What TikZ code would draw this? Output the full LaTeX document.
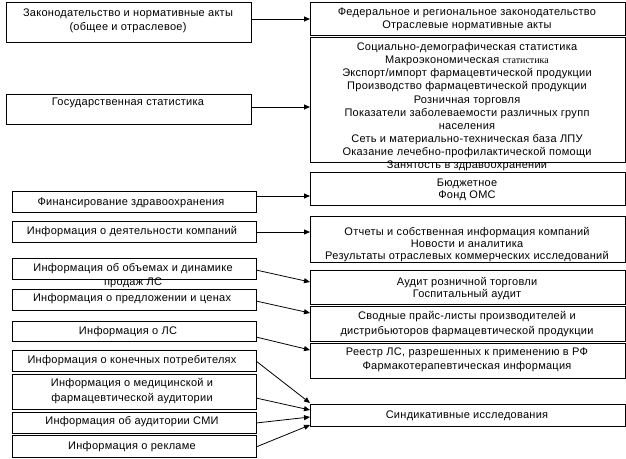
\documentclass[tikz,border=0pt]{standalone}
\usepackage{fontspec}
\setmainfont{Liberation Sans}[LetterSpace=2.5]
\newfontfamily\serifx{Liberation Serif}
\usetikzlibrary{arrows.meta}
\tikzset{
  box/.style={draw=black, line width=0.9pt, inner sep=0pt, outer sep=0pt, anchor=north west, fill=white},
  txt/.style={align=center, inner sep=0pt, anchor=north, font=\fontsize{11}{#1}\selectfont},
  txt/.default=11.7,
  arr/.style={line width=0.8pt, -{Triangle[length=6pt,width=5pt]}}
}
\begin{document}
\begin{tikzpicture}[x=1pt,y=-1pt]
\useasboundingbox (0,0) rectangle (626,458);
% left boxes
\node[box, minimum width=245pt, minimum height=40pt] (L1) at (6,2) {};
\node[box, minimum width=245pt, minimum height=30pt] (L2) at (6,94) {};
\node[box, minimum width=244pt, minimum height=21pt] (L3) at (12,191) {};
\node[box, minimum width=244pt, minimum height=21pt] (L4) at (12,221) {};
\node[box, minimum width=244pt, minimum height=21pt] (L5) at (12,258) {};
\node[box, minimum width=244pt, minimum height=21pt] (L6) at (12,289) {};
\node[box, minimum width=244pt, minimum height=20pt] (L7) at (12,321) {};
\node[box, minimum width=244pt, minimum height=21pt] (L8) at (12,350) {};
\node[box, minimum width=244pt, minimum height=35pt] (L9) at (12,374) {};
\node[box, minimum width=244pt, minimum height=21pt] (L10) at (12,412) {};
\node[box, minimum width=244pt, minimum height=22pt] (L11) at (12,435) {};
% right boxes
\node[box, minimum width=315pt, minimum height=33pt] (R1) at (310,2) {};
\node[box, minimum width=315pt, minimum height=125pt] (R2) at (310,37) {};
\node[box, minimum width=315pt, minimum height=33pt] (R3) at (310,172) {};
\node[box, minimum width=315pt, minimum height=46pt] (R4) at (310,216) {};
\node[box, minimum width=315pt, minimum height=34pt] (R5) at (310,270) {};
\node[box, minimum width=315pt, minimum height=35pt] (R6) at (310,306) {};
\node[box, minimum width=315pt, minimum height=35pt] (R7) at (310,343) {};
\node[box, minimum width=315pt, minimum height=22pt] (R8) at (310,404) {};
% left texts
\node[txt=14] (tL1) at (128,8.5) {Законодательство и нормативные акты\\(общее и отраслевое)};
\node[txt] (tL2) at (128,97.5) {Государственная статистика};
\node[txt] (tL3) at (131,197.5) {Финансирование здравоохранения};
\node[txt] (tL4) at (132,226.5) {Информация о деятельности компаний};
\node[txt=14] (tL5) at (133,263.5) {Информация об объемах и динамике\\продаж ЛС};
\node[txt] (tL6) at (132,293.5) {Информация о предложении и ценах};
\node[txt] (tL7) at (128,326.5) {Информация о ЛС};
\node[txt] (tL8) at (132,355.5) {Информация о конечных потребителях};
\node[txt=14.5] (tL9) at (132,378.5) {Информация о медицинской и\\фармацевтической аудитории};
\node[txt] (tL10) at (132,416.5) {Информация об аудитории СМИ};
\node[txt] (tL11) at (132,441.5) {Информация о рекламе};
% right texts
\node[txt=13.3] (tR1) at (467,7.5) {Федеральное и региональное законодательство\\Отраслевые нормативные акты};
\node[txt=13.1] (tR2) at (467,42.5) {Социально-демографическая статистика\\
Макроэкономическая {\serifx\fontsize{10}{13.1}\selectfont статистика}\\
Экспорт/импорт фармацевтической продукции\\
Производство фармацевтической продукции\\
Розничная торговля\\
Показатели заболеваемости различных групп\\
населения\\
Сеть и материально-техническая база ЛПУ\\
Оказание лечебно-профилактической помощи\\
Занятость в здравоохранении};
\node[txt=12] (tR3) at (467,178.5) {Бюджетное\\Фонд ОМС};
\node[txt=11.6] (tR4) at (467,227.5) {Отчеты и собственная информация компаний\\Новости и аналитика\\Результаты отраслевых коммерческих исследований};
\node[txt=11.6] (tR5) at (467,277.5) {Аудит розничной торговли\\Госпитальный аудит};
\node[txt=14.7] (tR6) at (467,311.5) {Сводные прайс-листы производителей и\\дистрибьюторов фармацевтической продукции};
\node[txt=14.3] (tR7) at (467,347.5) {Реестр ЛС, разрешенных к применению в РФ\\Фармакотерапевтическая информация};
\node[txt] (tR8) at (467,410.5) {Синдикативные исследования};
% arrows
\draw[arr] ([yshift=3pt]L1.east) -- ([yshift=-0.5pt]R1.west);
\draw[arr] ([yshift=2pt]L2.east) -- ([yshift=-7.5pt]R2.west);
\draw[arr] ([yshift=5.5pt]L3.east) -- ([yshift=-7.5pt]R3.west);
\draw[arr] ([yshift=-0.5pt]L4.east) -- ([yshift=7pt]R4.west);
\draw[arr] ([yshift=-1.5pt]L5.east) -- ([yshift=5pt]R5.west);
\draw[arr] ([yshift=-1.5pt]L6.east) -- ([yshift=10.5pt]R6.west);
\draw[arr] ([yshift=-6pt]L7.east) -- ([yshift=10.5pt]R7.west);
\draw[arr] ([yshift=-0.5pt]L8.east) -- ([yshift=12pt]R8.west);
\draw[arr] ([yshift=-6.5pt]L9.east) -- ([yshift=5pt]R8.west);
\draw[arr] ([yshift=-0.5pt]L10.east) -- ([yshift=-2pt]R8.west);
\draw[arr] ([yshift=-1pt]L11.east) -- ([yshift=-10pt]R8.west);
\end{tikzpicture}
\end{document}
